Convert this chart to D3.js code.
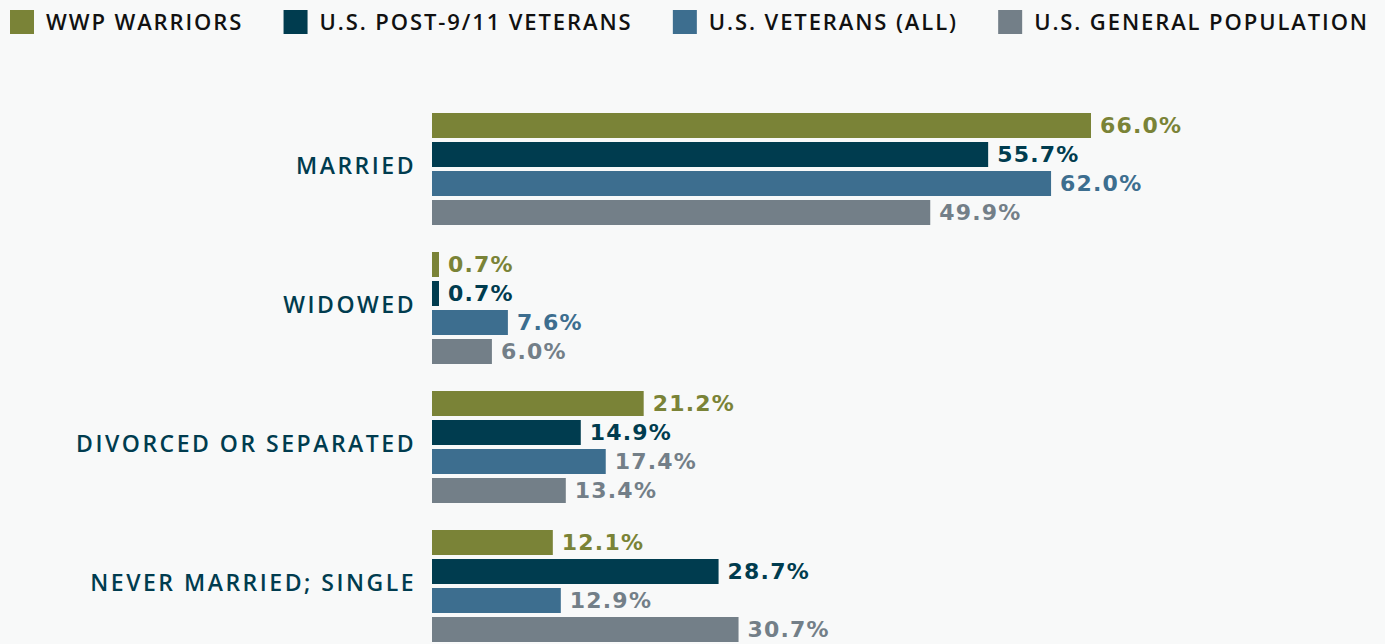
<!DOCTYPE html>
<html>
<head>
<meta charset="utf-8">
<script src="https://cdn.jsdelivr.net/npm/d3@7"></script>
<style>
  html, body { margin: 0; padding: 0; background: #f8f9f9; }
  svg { display: block; font-family: "Open Sans", "Noto Sans", sans-serif; }
</style>
</head>
<body>
<svg id="chart" width="1385" height="644"></svg>
<script>
// Embedded data
const categories = ["MARRIED", "WIDOWED", "DIVORCED OR SEPARATED", "NEVER MARRIED; SINGLE"];
const series = ["WWP WARRIORS", "U.S. POST-9/11 VETERANS", "U.S. VETERANS (ALL)", "U.S. GENERAL POPULATION"];
const wwp = [66.0, 0.7, 21.2, 12.1];
const post911 = [55.7, 0.7, 14.9, 28.7];
const vetsAll = [62.0, 7.6, 17.4, 12.9];
const generalPop = [49.9, 6.0, 13.4, 30.7];

const colors = ["#7a8337", "#003c4f", "#3d6e8f", "#737f88"];
// which series colour each value label uses (some labels are grey in the original)
const labelTone = [
    [0, 1, 2, 3],
    [0, 1, 2, 3],
    [0, 1, 3, 3],
    [0, 1, 3, 3]
];

const values = [wwp, post911, vetsAll, generalPop];
const rows = [];
categories.forEach((c, ci) => {
    series.forEach((s, si) => {
        rows.push({ cat: c, ci: ci, series: s, si: si, value: values[si][ci] });
    });
});

const svg = d3.select('#chart');

const x = d3.scaleLinear().domain([0, 66]).range([432, 1091]);
const y0 = d3.scaleBand().domain(categories).range([113, 642]).paddingInner(27 / 139);
const y1 = d3.scaleBand().domain(series).range([0, y0.bandwidth()]).paddingInner(4 / 29);

// category labels
svg.append('g').selectAll('text')
    .data(categories)
    .join('text')
    .attr('x', 416)
    .attr('y', d => y0(d) + y0.bandwidth() / 2)
    .attr('dy', '0.2em')
    .attr('text-anchor', 'end')
    .attr('fill', '#003c4f')
    .attr('font-size', 23)
    .attr('font-weight', 600)
    .attr('letter-spacing', 2.5)
    .text(d => d);

// bars
svg.append('g').selectAll('rect')
    .data(rows)
    .join('rect')
    .attr('x', x(0))
    .attr('y', d => y0(d.cat) + y1(d.series))
    .attr('width', d => x(d.value) - x(0))
    .attr('height', y1.bandwidth())
    .attr('fill', d => colors[d.si]);

// value labels
svg.append('g').selectAll('text')
    .data(rows)
    .join('text')
    .attr('x', d => x(d.value) + 9)
    .attr('y', d => y0(d.cat) + y1(d.series) + y1.bandwidth() / 2)
    .attr('dy', '0.36em')
    .attr('fill', d => colors[labelTone[d.ci][d.si]])
    .attr('font-family', '"DejaVu Sans", sans-serif')
    .attr('font-size', 22)
    .attr('font-weight', 700)
    .attr('letter-spacing', 1.2)
    .text(d => d.value.toFixed(1) + '%');

// legend, spread across the top like a flex row
const legend = svg.append('g');
const items = legend.selectAll('g')
    .data(series)
    .join('g');
items.append('rect')
    .attr('width', 24)
    .attr('height', 24)
    .attr('y', 10)
    .attr('fill', (d, i) => colors[i]);
items.append('text')
    .attr('x', 36)
    .attr('y', 22)
    .attr('dy', '0.36em')
    .attr('fill', '#111')
    .attr('font-size', 22)
    .attr('font-weight', 600)
    .attr('letter-spacing', 1.9)
    .text(d => d);

const widths = [];
items.each(function () { widths.push(this.getBBox().width); });
const totalW = d3.sum(widths);
const gap = (1369 - 10 - totalW) / (series.length - 1);
let cx = 10;
items.attr('transform', (d, i) => {
    const t = `translate(${cx},0)`;
    cx += widths[i] + gap;
    return t;
});
</script>
</body>
</html>
